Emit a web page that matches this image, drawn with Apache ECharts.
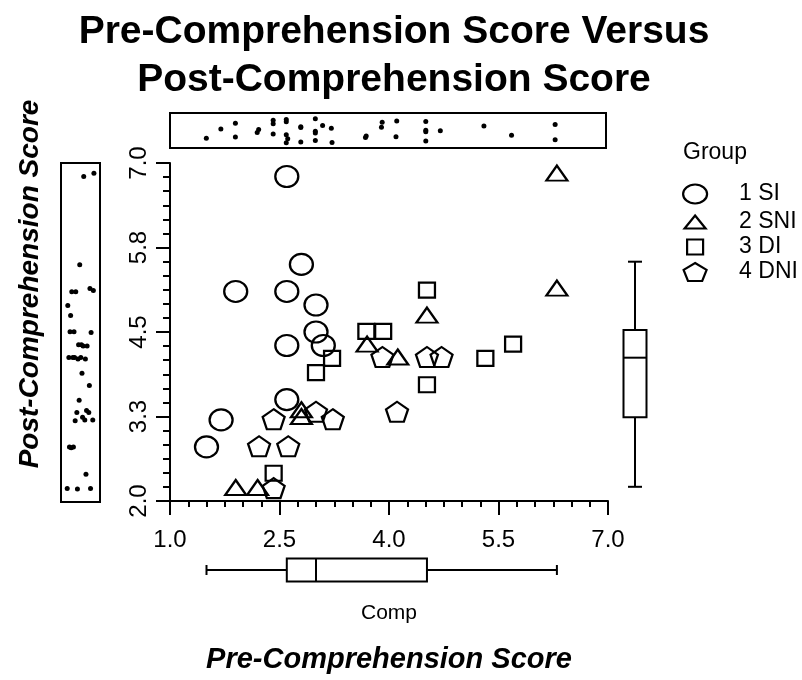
<!DOCTYPE html>
<html><head><meta charset="utf-8">
<script src="https://cdn.jsdelivr.net/npm/echarts@6/dist/echarts.min.js"></script>
<style>html,body{margin:0;padding:0;background:#fff}#c{width:802px;height:680px}</style>
</head><body><div id="c"></div>
<script>
// ---- data ----
const groupNames = ['1 SI', '2 SNI', '3 DI', '4 DNI'];
const siX  = [2.6, 2.8, 1.9, 2.6, 3.0, 3.0, 3.1, 2.6, 2.6, 1.7, 1.5];
const siY  = [6.8, 5.5, 5.1, 5.1, 4.9, 4.5, 4.3, 4.3, 3.5, 3.2, 2.8];
const sniX = [1.9, 2.2, 2.8, 2.8, 3.7, 4.12, 4.52, 6.3, 6.3];
const sniY = [2.2, 2.2, 3.35, 3.25, 4.32, 4.13, 4.75, 6.85, 5.15];
const diX  = [2.42, 3.0, 3.22, 3.69, 3.92, 4.52, 4.52, 5.32, 5.7];
const diY  = [2.41, 3.9, 4.11, 4.51, 4.51, 5.12, 3.72, 4.11, 4.32];
const dniX = [2.42, 2.22, 2.62, 2.42, 3.0, 3.23, 3.91, 4.11, 4.52, 4.72];
const dniY = [2.19, 2.81, 2.81, 3.21, 3.32, 3.21, 4.13, 3.32, 4.13, 4.13];
const xTickLabels = ['1.0', '2.5', '4.0', '5.5', '7.0'];
const yTickLabels = ['2.0', '3.3', '4.5', '5.8', '7.0'];
// box plot five-number summaries [min, q1, median, q3, max]
const compBox = [1.5, 2.6, 3.0, 4.52, 6.3];
const postBox = [2.21, 3.24, 4.12, 4.53, 5.54];

// ---- chart ----
const xs = [siX, sniX, diX, dniX];
const ys = [siY, sniY, diY, dniY];
const allX = [].concat(...xs);
const allY = [].concat(...ys);
const jit = i => 0.15 + 0.7 * ((i * 0.6180339887) % 1);

const ellipsePath = 'path://M0,50A50,50,0,1,1,100,50A50,50,0,1,1,0,50Z';
const triPath = 'path://M50,0L100,100L0,100Z';
const rectPath = 'path://M0,0L100,0L100,100L0,100Z';
const pentPath = 'path://M50,0L97.55,34.55L79.39,90.45L20.61,90.45L2.45,34.55Z';
const symbols = [ellipsePath, triPath, rectPath, pentPath];
const sizes = [[23, 21], [21, 15], [16, 15], [22, 20]];
const legendSizes = [[24, 19], [21, 13], [16, 15], [23, 18]];
const legendCenters = [193, 221, 246, 271];

const FONT = 'Liberation Sans';
const openStyle = {color: 'rgba(0,0,0,0)', borderColor: '#000', borderWidth: 2.2, opacity: 1};

const series = groupNames.map((name, g) => ({
  name, type: 'scatter', xAxisIndex: 0, yAxisIndex: 0,
  symbol: symbols[g], symbolSize: sizes[g],
  itemStyle: openStyle, emphasis: {disabled: true},
  data: xs[g].map((x, i) => [x, ys[g][i]])
}));

series.push({
  type: 'scatter', xAxisIndex: 1, yAxisIndex: 1, symbol: 'circle', symbolSize: 5,
  itemStyle: {color: '#000', opacity: 1}, silent: true,
  data: allX.map((x, i) => [x, jit(i)])
});
series.push({
  type: 'scatter', xAxisIndex: 2, yAxisIndex: 2, symbol: 'circle', symbolSize: 5,
  itemStyle: {color: '#000', opacity: 1}, silent: true,
  data: allY.map((y, i) => [jit(i * 3 + 1), y])
});

function boxItem(vertical) {
  return function (params, api) {
    const c = api.value(0);
    const v = [1, 2, 3, 4, 5].map(k => api.value(k));
    const pt = val => vertical ? api.coord([c, val]) : api.coord([val, c]);
    const p = v.map(pt);
    const bw = 23, cw = vertical ? 14 : 10;
    const style = {stroke: '#000', lineWidth: 2, fill: 'none'};
    const ch = [];
    if (vertical) {
      const x = p[0][0];
      ch.push({type: 'line', shape: {x1: x, y1: p[0][1], x2: x, y2: p[1][1]}, style});
      ch.push({type: 'line', shape: {x1: x, y1: p[3][1], x2: x, y2: p[4][1]}, style});
      ch.push({type: 'line', shape: {x1: x - cw / 2, y1: p[0][1], x2: x + cw / 2, y2: p[0][1]}, style});
      ch.push({type: 'line', shape: {x1: x - cw / 2, y1: p[4][1], x2: x + cw / 2, y2: p[4][1]}, style});
      ch.push({type: 'rect', shape: {x: x - bw / 2, y: p[3][1], width: bw, height: p[1][1] - p[3][1]}, style});
      ch.push({type: 'line', shape: {x1: x - bw / 2, y1: p[2][1], x2: x + bw / 2, y2: p[2][1]}, style});
    } else {
      const y = p[0][1];
      ch.push({type: 'line', shape: {x1: p[0][0], y1: y, x2: p[1][0], y2: y}, style});
      ch.push({type: 'line', shape: {x1: p[3][0], y1: y, x2: p[4][0], y2: y}, style});
      ch.push({type: 'line', shape: {x1: p[0][0], y1: y - cw / 2, x2: p[0][0], y2: y + cw / 2}, style});
      ch.push({type: 'line', shape: {x1: p[4][0], y1: y - cw / 2, x2: p[4][0], y2: y + cw / 2}, style});
      ch.push({type: 'rect', shape: {x: p[1][0], y: y - bw / 2, width: p[3][0] - p[1][0], height: bw}, style});
      ch.push({type: 'line', shape: {x1: p[2][0], y1: y - bw / 2, x2: p[2][0], y2: y + bw / 2}, style});
    }
    return {type: 'group', children: ch};
  };
}
series.push({
  type: 'custom', xAxisIndex: 3, yAxisIndex: 3, silent: true,
  renderItem: boxItem(true), data: [[0].concat(postBox)]
});
series.push({
  type: 'custom', xAxisIndex: 4, yAxisIndex: 4, silent: true,
  renderItem: boxItem(false), data: [[0].concat(compBox)]
});

const hidden = {axisLine: {show: false}, axisTick: {show: false}, axisLabel: {show: false}, splitLine: {show: false}};
const blackLine = {color: '#000', width: 2};

const option = {
  animation: false,
  backgroundColor: '#fff',
  title: {
    text: 'Pre-Comprehension Score Versus\nPost-Comprehension Score',
    left: 389, top: 3, textAlign: 'center',
    textStyle: {fontFamily: FONT, fontSize: 39, fontWeight: 'bold', color: '#000', lineHeight: 48}
  },
  legend: groupNames.map((name, g) => ({
    data: [name], orient: 'vertical', left: 694 - legendSizes[g][0] / 2, top: legendCenters[g] - 12,
    itemWidth: legendSizes[g][0], itemHeight: legendSizes[g][1], itemGap: 0, padding: 0,
    selectedMode: false, icon: symbols[g], symbolKeepAspect: false,
    itemStyle: {color: 'rgba(0,0,0,0)', borderColor: '#000', borderWidth: 2.2, opacity: 1},
    textStyle: {fontFamily: FONT, fontSize: 23, color: '#000', lineHeight: 24,
      padding: [2, 0, 0, 39 - legendSizes[g][0] / 2]}
  })),
  graphic: [
    {type: 'text', x: 683, y: 153, style: {text: 'Group', font: '23px "Liberation Sans"', fill: '#000', textVerticalAlign: 'middle'}},
    {type: 'text', x: 30, y: 284, rotation: Math.PI / 2,
     style: {text: 'Post-Comprehension Score', font: 'italic bold 28px "Liberation Sans"', fill: '#000', textAlign: 'center', textVerticalAlign: 'middle'}}
  ],
  grid: [
    {left: 170, top: 163, width: 438, height: 338},
    {left: 170, top: 113, width: 436, height: 35, show: true, borderColor: '#000', borderWidth: 2},
    {left: 61, top: 163, width: 39, height: 339, show: true, borderColor: '#000', borderWidth: 2},
    {left: 610, top: 163, width: 50, height: 338},
    {left: 170, top: 557, width: 438, height: 26}
  ],
  xAxis: [
    {gridIndex: 0, type: 'value', min: 1, max: 7, interval: 1.5,
     axisLine: {lineStyle: blackLine},
     axisTick: {length: 14, lineStyle: blackLine},
     minorTick: {show: true, splitNumber: 6, length: 6, lineStyle: blackLine},
     splitLine: {show: false}, minorSplitLine: {show: false},
     axisLabel: {fontFamily: FONT, fontSize: 24, color: '#000', margin: 27,
       formatter: v => xTickLabels[Math.round((v - 1) / 1.5)]},
     name: 'Pre-Comprehension Score', nameLocation: 'middle', nameGap: 144,
     nameTextStyle: {fontFamily: FONT, fontSize: 29, fontWeight: 'bold', fontStyle: 'italic', color: '#000'}},
    Object.assign({gridIndex: 1, type: 'value', min: 1, max: 7}, hidden),
    Object.assign({gridIndex: 2, type: 'value', min: 0, max: 1}, hidden),
    Object.assign({gridIndex: 3, type: 'category', data: ['Post']}, hidden),
    Object.assign({gridIndex: 4, type: 'value', min: 1, max: 7, name: 'Comp', nameLocation: 'middle', nameGap: 20,
      nameTextStyle: {fontFamily: FONT, fontSize: 21, color: '#000'}}, hidden)
  ],
  yAxis: [
    {gridIndex: 0, type: 'value', min: 2, max: 7, interval: 1.25,
     axisLine: {lineStyle: blackLine},
     axisTick: {length: 14, lineStyle: blackLine},
     minorTick: {show: true, splitNumber: 6, length: 7, lineStyle: blackLine},
     splitLine: {show: false}, minorSplitLine: {show: false},
     axisLabel: {fontFamily: FONT, fontSize: 24, color: '#000', margin: 19, rotate: 90,
       formatter: v => yTickLabels[Math.round((v - 2) / 1.25)]}},
    Object.assign({gridIndex: 1, type: 'value', min: 0, max: 1}, hidden),
    Object.assign({gridIndex: 2, type: 'value', min: 2, max: 7}, hidden),
    Object.assign({gridIndex: 3, type: 'value', min: 2, max: 7}, hidden),
    Object.assign({gridIndex: 4, type: 'category', data: ['Comp']}, hidden)
  ],
  series
};
const chart = echarts.init(document.getElementById('c'), null, {renderer: 'canvas'});
chart.setOption(option);
</script></body></html>
